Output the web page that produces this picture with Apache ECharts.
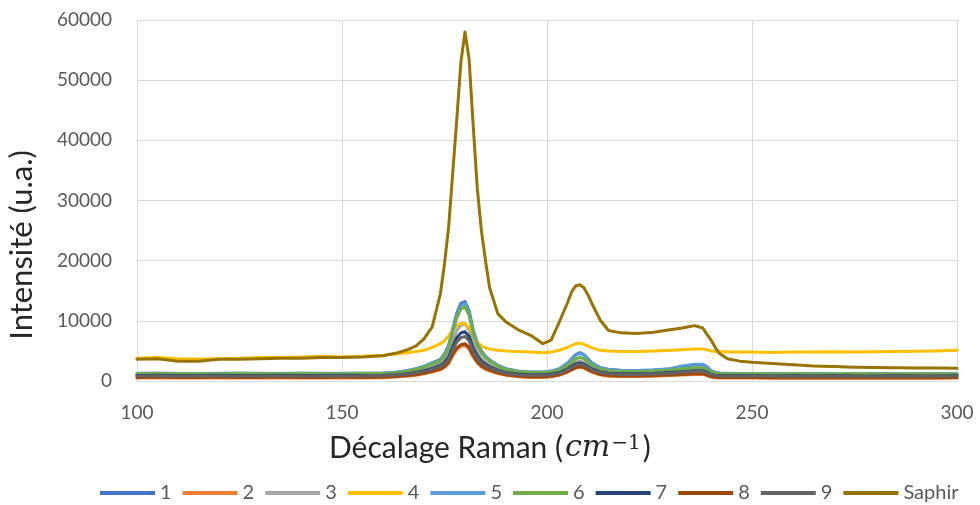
<!DOCTYPE html>
<html>
<head>
<meta charset="utf-8">
<script src="https://cdn.jsdelivr.net/npm/echarts@6/dist/echarts.min.js"></script>
<style>
html,body{margin:0;padding:0;background:#fff;}
#c{width:980px;height:505px;}
</style>
</head>
<body>
<div id="c"></div>
<script>
const xs = [100,105,110,115,120,125,130,135,140,145,150,155,160,
  163,166,168,170,172,174,
  175,176,177,178,179,180,181,182,183,184,185,186,
  188,190,193,196,199,201,203,205,
  206,207,208,209,210,211,213,215,218,
  222,226,230,233,236,238,239,240,241,242,244,247,
  250,255,260,265,270,275,280,285,290,295,300];

const s1 = [1250,1300,1250,1200,1250,1300,1250,1250,1300,1250,1250,1300,1300,
  1400,1700,2000,2400,3000,3600,
  4500,5900,8700,11300,12900,13200,11700,8500,6300,5000,4100,3500,
  2600,2000,1600,1450,1450,1600,2000,2950,
  3700,4400,4700,4400,3700,3000,2200,1900,1750,
  1700,1800,2000,2400,2700,2700,2300,1700,1400,1300,1250,1200,
  1200,1200,1150,1200,1150,1150,1200,1150,1150,1200,1150];

const s2 = [500,550,500,500,550,500,500,550,500,500,550,500,550,
  650,800,950,1200,1500,1850,
  2250,2900,4200,5200,5750,5900,5300,4000,3000,2350,1950,1700,
  1250,950,700,600,600,700,950,1450,
  1800,2150,2300,2150,1800,1450,1000,800,750,
  750,800,900,1000,1100,1100,900,650,550,500,500,500,
  500,450,500,450,500,450,450,500,450,450,500];

const s3 = [1000,1050,1000,1000,1050,1000,1000,1050,1000,1000,1050,1000,1050,
  1150,1350,1600,1950,2400,2900,
  3500,4600,6600,8400,9300,9500,8500,6300,4800,3800,3200,2700,
  2000,1600,1300,1150,1150,1250,1550,2200,
  2700,3150,3300,3100,2650,2200,1650,1450,1350,
  1300,1400,1550,1750,1900,1900,1650,1250,1100,1050,1000,1000,
  1000,950,1000,950,1000,950,950,1000,950,950,1000];

const s4 = [3800,3900,3700,3650,3700,3800,3900,3900,4000,4100,4000,4100,4300,
  4500,4700,4900,5100,5600,6200,
  6700,7500,8500,9200,9600,9500,8900,7700,6500,5800,5500,5300,
  5100,5000,4900,4800,4700,4800,5100,5600,
  5900,6200,6300,6100,5800,5500,5100,5000,4900,
  4900,5000,5100,5200,5300,5300,5200,5000,4900,4900,4800,4800,
  4800,4750,4800,4800,4850,4800,4850,4900,4950,5000,5100];

const s5 = [1300,1300,1250,1250,1300,1300,1300,1250,1300,1300,1300,1300,1350,
  1450,1750,2050,2450,3000,3600,
  4500,5800,8500,11000,12600,12900,11400,8300,6200,4900,4100,3500,
  2600,2050,1650,1500,1500,1650,2050,2950,
  3650,4300,4600,4300,3650,3000,2250,1950,1800,
  1750,1850,2050,2500,2800,2800,2400,1750,1450,1350,1300,1250,
  1250,1250,1200,1250,1200,1200,1250,1200,1200,1250,1200];

const s6 = [1200,1250,1200,1200,1200,1250,1200,1200,1250,1200,1200,1250,1250,
  1350,1600,1900,2300,2800,3400,
  4200,5500,8100,10500,12000,12300,10900,7900,5900,4700,3900,3300,
  2450,1900,1550,1400,1400,1500,1800,2550,
  3150,3700,3900,3700,3150,2600,1950,1700,1600,
  1550,1650,1800,2000,2200,2200,1900,1500,1300,1250,1200,1200,
  1200,1150,1200,1150,1150,1200,1150,1150,1200,1150,1150];

const s7 = [900,950,900,900,950,900,900,950,900,900,950,900,950,
  1050,1200,1400,1700,2100,2600,
  3100,4000,5700,7200,8000,8200,7400,5500,4200,3300,2800,2400,
  1800,1400,1150,1050,1050,1150,1400,2000,
  2450,2850,3000,2800,2400,2000,1500,1300,1200,
  1200,1250,1400,1550,1700,1700,1450,1100,950,900,900,900,
  900,850,900,850,900,850,850,900,850,850,900];

const s8 = [600,650,600,600,650,600,600,650,600,600,650,600,650,
  750,900,1050,1300,1600,2000,
  2400,3100,4400,5500,6050,6200,5600,4200,3200,2500,2100,1800,
  1350,1050,800,700,700,800,1050,1550,
  1900,2250,2400,2250,1900,1550,1100,900,850,
  850,900,1000,1100,1200,1200,1000,750,650,600,600,600,
  600,550,600,550,600,550,550,600,550,550,600];

const s9 = [850,850,800,850,850,800,850,850,800,850,850,850,900,
  1000,1150,1350,1600,1950,2400,
  2850,3650,5200,6500,7200,7400,6700,5000,3800,3000,2550,2200,
  1650,1300,1050,950,950,1050,1300,1850,
  2250,2650,2800,2600,2250,1850,1400,1200,1100,
  1100,1150,1300,1450,1600,1600,1350,1050,900,850,850,850,
  850,800,850,800,850,800,800,850,800,800,850];

const saphir = [3600,3700,3300,3300,3600,3600,3700,3800,3800,3900,3900,4000,4200,
  4600,5200,5800,7000,9000,14500,
  19500,25500,34500,43500,53000,58000,53500,42500,32000,25000,20000,15500,
  11200,9800,8500,7600,6200,6800,9800,13000,
  14800,15800,16000,15500,14300,12800,10100,8400,8000,
  7900,8100,8500,8800,9200,8800,7800,6800,5600,4600,3700,3300,
  3100,2900,2700,2500,2400,2300,2250,2200,2150,2150,2100];

const seriesNames = ['1','2','3','4','5','6','7','8','9','Saphir'];
const seriesValues = [s1,s2,s3,s4,s5,s6,s7,s8,s9,saphir];
const colors = ['#4472C4','#ED7D31','#A5A5A5','#FFC000','#5B9BD5','#70AD47','#264478','#9E480E','#636363','#997300'];
const xTicks = [100,150,200,250,300];
const yTicks = [0,10000,20000,30000,40000,50000,60000];

const FONT = 'Lato, "Open Sans", sans-serif';
const chart = echarts.init(document.getElementById('c'), null, {renderer:'canvas'});

chart.setOption({
  animation: false,
  color: colors,
  grid: {left: 137, right: 23, top: 20, bottom: 124, containLabel: false},
  title: {
    text: '{a|Décalage Raman (}{b|cm}{c|−1}{a|)}',
    left: 329, top: 433,
    padding: 0,
    textStyle: {
      rich: {
        a: {fontSize: 30, fontFamily: FONT, color: '#262626', fontWeight: 'normal'},
        b: {fontSize: 30, fontFamily: '"DejaVu Serif", "Liberation Serif", serif', fontStyle: 'italic', fontWeight: 'normal', color: '#262626', padding: [0,0,0,2]},
        c: {fontSize: 20, fontFamily: '"DejaVu Serif", serif', fontWeight: 'normal', color: '#262626', padding: [0,2,8,1]}
      }
    }
  },
  legend: {
    data: seriesNames,
    left: 95, top: 478,
    icon: 'rect',
    itemWidth: 55, itemHeight: 4, itemGap: 11,
    textStyle: {color: '#595959', fontSize: 20, fontFamily: FONT}
  },
  xAxis: {
    type: 'value',
    min: xTicks[0], max: xTicks[xTicks.length-1], interval: 50,
    axisLine: {show: true, lineStyle: {color: '#d9d9d9', width: 1}},
    axisTick: {show: false},
    splitLine: {show: true, lineStyle: {color: '#d9d9d9', width: 1}},
    axisLabel: {color: '#595959', fontSize: 19, fontFamily: FONT, margin: 22}
  },
  yAxis: {
    type: 'value',
    min: yTicks[0], max: yTicks[yTicks.length-1], interval: 10000,
    axisLine: {show: false},
    axisTick: {show: false},
    splitLine: {show: true, lineStyle: {color: '#d9d9d9', width: 1}},
    axisLabel: {color: '#595959', fontSize: 19, fontFamily: FONT, margin: 25,
      formatter: v => String(v)}
  },
  graphic: [
    {
      type: 'text', x: 22, y: 245, rotation: Math.PI/2,
      style: {
        text: 'Intensité (u.a.)',
        fontSize: 31, fontFamily: FONT, fill: '#262626',
        align: 'center', verticalAlign: 'middle'
      }
    }
  ],
  series: seriesNames.map((n, k) => ({
    name: n,
    type: 'line',
    symbol: 'none',
    smooth: false,
    lineStyle: {width: 3, color: colors[k], join: 'round', cap: 'round'},
    itemStyle: {color: colors[k]},
    data: xs.map((x, i) => [x, seriesValues[k][i]])
  }))
});
</script>
</body>
</html>
